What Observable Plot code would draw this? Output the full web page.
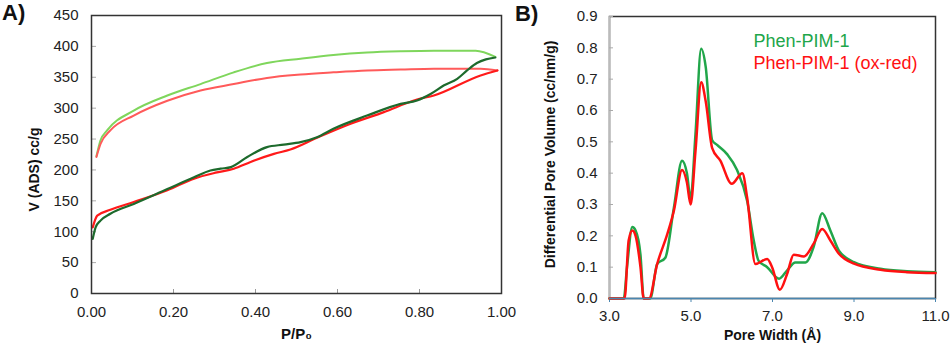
<!DOCTYPE html>
<html>
<head>
<meta charset="utf-8">
<script src="https://cdn.jsdelivr.net/npm/d3@7"></script>
<script src="https://cdn.jsdelivr.net/npm/@observablehq/plot@0.6"></script>
<style>
  html, body { margin: 0; padding: 0; background: #fff; }
  #wrap { position: relative; width: 952px; height: 346px; font-family: "Liberation Sans", Arial, sans-serif; }
  #panelA { position: absolute; left: 0; top: 0; }
  #panelB { position: absolute; left: 510px; top: 0; }
  svg { overflow: visible; }
</style>
</head>
<body>
<div id="wrap"><div id="panelA"></div><div id="panelB"></div></div>
<script>
// ---------- Panel A: N2 isotherms ----------
const pGreenAds = [0.003,0.010,0.022,0.046,0.103,0.185,0.25,0.29,0.315,0.34,0.38,0.428,0.469,0.51,0.55,0.59,0.672,0.754,0.794,0.827,0.86,0.892,0.916,0.94,0.962,0.985];
const vGreenAds = [88.5,107,118,129,145,169,188,199,202,204.5,221,237,241,245,253,266.6,288,307,312.5,323,337,347.5,361,373,379,382];
const pGreenDes = [0.012,0.022,0.038,0.103,0.185,0.266,0.347,0.428,0.51,0.59,0.672,0.754,0.835,0.937,0.985];
const vGreenDes = [222,248,264,296,320.5,339,358,373,380,386,390,392,393,393,383];
const pRedAds = [0.003,0.014,0.046,0.103,0.185,0.25,0.306,0.347,0.388,0.445,0.485,0.55,0.632,0.713,0.794,0.835,0.949,0.99];
const vRedAds = [107,126,135.5,148,167,186,196,202,213,226,233,252,274.7,293.6,314,320.5,353,361];
const pRedDes = [0.012,0.022,0.046,0.103,0.185,0.266,0.347,0.428,0.51,0.59,0.672,0.754,0.835,0.949,0.99];
const vRedDes = [221,242,264,288,312,328.6,339,349,354.5,358,361,362.6,364,364,361];
const xTicksA = [0,0.2,0.4,0.6,0.8,1.0];
const yTicksA = [0,50,100,150,200,250,300,350,400,450];
const xDomainA = [0,1];
const yDomainA = [0,450];

// ---------- Panel B: pore size distribution ----------
const wGreen = [3.0,3.35,3.43,3.56,3.64,3.76,3.84,4.0,4.17,4.37,4.58,4.78,4.9,4.99,5.11,5.25,5.36,5.52,5.64,5.89,6.13,6.38,6.54,6.66,6.87,7.16,7.36,7.56,7.81,8.01,8.22,8.42,8.63,9.0,9.65,10.3,11.0];
const vGreen = [0,0,0.1,0.228,0.217,0.14,0,0,0.11,0.13,0.29,0.44,0.4,0.32,0.525,0.797,0.74,0.505,0.49,0.46,0.41,0.31,0.185,0.12,0.1,0.063,0.09,0.115,0.115,0.165,0.272,0.217,0.153,0.116,0.095,0.087,0.084];
const wRed = [3.0,3.37,3.47,3.56,3.64,3.76,3.84,3.97,4.17,4.42,4.58,4.78,4.9,4.99,5.11,5.25,5.36,5.52,5.72,6.0,6.26,6.38,6.58,6.87,6.99,7.18,7.36,7.52,7.77,8.01,8.22,8.42,8.63,9.0,9.65,10.3,11.0];
const vRed = [0,0,0.185,0.217,0.2,0.1,0,0,0.11,0.206,0.28,0.41,0.37,0.30,0.47,0.69,0.63,0.48,0.44,0.366,0.40,0.32,0.11,0.126,0.1,0.028,0.079,0.14,0.134,0.175,0.222,0.185,0.143,0.111,0.092,0.084,0.081];
const seriesB = ["Phen-PIM-1","Phen-PIM-1 (ox-red)"];
const xTicksB = [3,5,7,9,11];
const yTicksB = [0,0.1,0.2,0.3,0.4,0.5,0.6,0.7,0.8,0.9];
const xDomainB = [3,11];
const yDomainB = [0,0.9];

const font = "Liberation Sans, Arial, sans-serif";
const zip = (xs, ys) => xs.map((x, i) => ({x, y: ys[i]}));

// ----- Panel A -----
const hA = 346, mtA = 15, mbA = 53;
const plotA = Plot.plot({
  width: 510, height: hA,
  marginLeft: 91, marginRight: 9, marginTop: mtA, marginBottom: mbA,
  style: {fontFamily: font, fontSize: "15px", color: "#222", background: "transparent"},
  x: {domain: xDomainA},
  y: {domain: yDomainA},
  marks: [
    Plot.tickX(xTicksA, {x: d => d, insetTop: hA - mtA - mbA - 4, stroke: "#999"}),
    Plot.tickY(yTicksA, {y: d => d, insetRight: 410 - 5, stroke: "#aaa"}),
    Plot.axisX({ticks: xTicksA, tickFormat: d3.format(".2f"), tickSize: 0, tickPadding: 13, label: null}),
    Plot.axisY({ticks: yTicksA, tickSize: 0, tickPadding: 13, label: null}),
    Plot.line(zip(pGreenDes, vGreenDes), {x: "x", y: "y", stroke: "#7fd65c", strokeWidth: 2, curve: "monotone-x"}),
    Plot.line(zip(pRedDes, vRedDes), {x: "x", y: "y", stroke: "#ff5a5a", strokeWidth: 2, curve: "monotone-x"}),
    Plot.line(zip(pRedAds, vRedAds), {x: "x", y: "y", stroke: "#ff1a1a", strokeWidth: 2.2, curve: "monotone-x"}),
    Plot.line(zip(pGreenAds, vGreenAds), {x: "x", y: "y", stroke: "#1d6a2c", strokeWidth: 2.2, curve: "monotone-x"}),
    Plot.frame({stroke: "#333", strokeWidth: 1.5}),
    Plot.text(["V (ADS) cc/g"], {frameAnchor: "left", textAnchor: "middle", lineAnchor: "middle", rotate: -90, dx: -57, dy: 15, fontWeight: "bold", fontSize: 14, fill: "#111"}),
    Plot.text(["P/P\u2080"], {frameAnchor: "bottom", lineAnchor: "bottom", dy: 45, fontWeight: "bold", fontSize: 15, fill: "#111"})
  ]
});
document.getElementById("panelA").appendChild(plotA);

// ----- Panel B -----
const hB = 346, mtB = 16, mbB = 48;
const colorsB = ["#21a64a", "#ff1111"];
const plotB = Plot.plot({
  width: 442, height: hB,
  marginLeft: 99, marginRight: 17, marginTop: mtB, marginBottom: mbB,
  style: {fontFamily: font, fontSize: "15px", color: "#222", background: "transparent"},
  x: {domain: xDomainB},
  y: {domain: yDomainB},
  marks: [
    Plot.frame({stroke: "#333", strokeWidth: 1.5}),
    Plot.ruleX([xDomainB[0]], {stroke: "#bbb", strokeWidth: 1.5}),
    Plot.tickY(yTicksB, {y: d => d, insetRight: 326 - 4, stroke: "#aaa"}),
    Plot.axisX({ticks: xTicksB, tickFormat: d3.format(".1f"), tickSize: 4, tickPadding: 8, stroke: "#4a86b0", label: null}),
    Plot.axisY({ticks: yTicksB, tickFormat: d3.format(".1f"), tickSize: 0, tickPadding: 12, label: null}),
    Plot.line(zip(wGreen, vGreen), {x: "x", y: "y", stroke: colorsB[0], strokeWidth: 2.5, curve: "monotone-x"}),
    Plot.line(zip(wRed, vRed), {x: "x", y: "y", stroke: colorsB[1], strokeWidth: 2.5, curve: "monotone-x"}),
    Plot.ruleY([0], {stroke: "#4a86b0", strokeWidth: 1.5}),
    Plot.text(["Differential Pore Volume (cc/nm/g)"], {frameAnchor: "left", textAnchor: "middle", lineAnchor: "middle", rotate: -90, dx: -59, dy: -3, fontWeight: "bold", fontSize: 14, fill: "#111"}),
    Plot.text(["Pore Width (\u00c5)"], {frameAnchor: "bottom", lineAnchor: "bottom", dy: 41, fontWeight: "bold", fontSize: 14, fill: "#111"}),
    Plot.text([seriesB[0]], {frameAnchor: "top-left", textAnchor: "start", lineAnchor: "middle", dx: 144, dy: 25, fontSize: 18, fill: colorsB[0]}),
    Plot.text([seriesB[1]], {frameAnchor: "top-left", textAnchor: "start", lineAnchor: "middle", dx: 144, dy: 47, fontSize: 18, fill: colorsB[1]})
  ]
});
document.getElementById("panelB").appendChild(plotB);

// Panel letters
for (const [txt, left, top] of [["A)", 2, 0], ["B)", 515, 1]]) {
  const d = document.createElement("div");
  d.textContent = txt;
  d.style.cssText = `position:absolute;left:${left}px;top:${top}px;font:bold 22px ${font};color:#111;line-height:26px;`;
  document.getElementById("wrap").appendChild(d);
}
</script>
</body>
</html>
